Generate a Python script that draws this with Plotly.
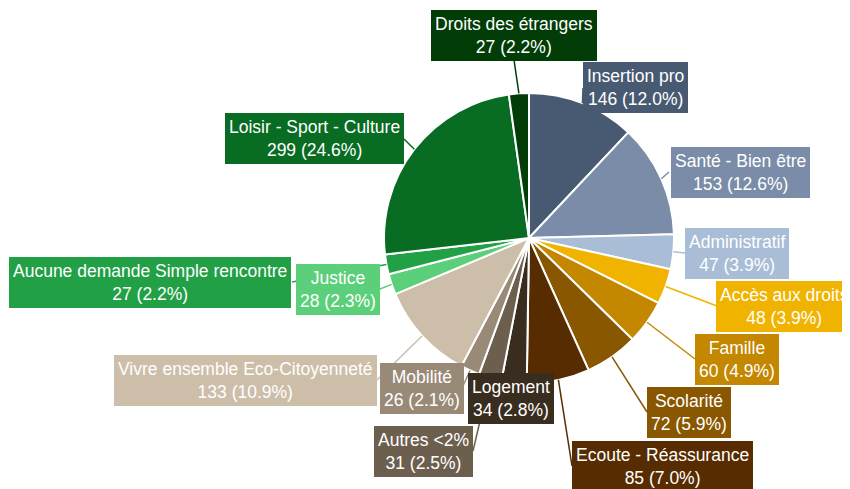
import math
import plotly.graph_objects as go

# ---- data ----
categories = [
    "Insertion pro", "Santé - Bien être", "Administratif", "Accès aux droits",
    "Famille", "Scolarité", "Ecoute - Réassurance", "Logement", "Autres <2%",
    "Mobilité", "Vivre ensemble Eco-Citoyenneté", "Justice",
    "Aucune demande Simple rencontre", "Loisir - Sport - Culture",
    "Droits des étrangers",
]
values = [146, 153, 47, 48, 60, 72, 85, 34, 31, 26, 133, 28, 27, 299, 27]
colors = [
    "#475a72", "#7a8ca7", "#a9bdd6", "#f0b400", "#c38700", "#895700",
    "#572c00", "#392d1f", "#6d5f4e", "#998a77", "#cdbeaa", "#5ccf7b",
    "#22a046", "#086c22", "#023d07",
]

# ---- layout (screen pixels; page body has an 8px margin) ----
W, H = 850, 489
OFF = 8
CX, CY, R = 529, 238, 145
label_centers = [
    (635, 88), (740, 172), (737, 253), (784, 306), (737, 359), (689, 412),
    (662, 466), (511, 398), (423, 451), (422, 388), (245, 380), (338, 289),
    (150, 282), (314, 139), (514, 35),
]
label_halfw = [52, 71, 52, 67, 42, 42, 90, 43, 50, 40, 132, 42, 142, 90, 83]
label_halfh = 25
FONT = "Liberation Sans, Arial, Helvetica, sans-serif"


def px(x, y):
    return (x - OFF) / W, 1 - (y - OFF) / H


total = sum(values)
dx0, dy1 = px(CX - R, CY - R)
dx1, dy0 = px(CX + R, CY + R)
fig = go.Figure(go.Pie(
    labels=categories, values=values, sort=False, direction="clockwise",
    rotation=0, textinfo="none", showlegend=False,
    marker=dict(colors=colors, line=dict(color="white", width=2)),
    domain=dict(x=[dx0, dx1], y=[dy0, dy1]),
))

shapes, annotations = [], []
cum = 0
for i, (lab, v, c) in enumerate(zip(categories, values, colors)):
    mid = (cum + v / 2) / total * 2 * math.pi
    cum += v
    ex = CX + R * math.sin(mid)
    ey = CY - R * math.cos(mid)
    bx, by = label_centers[i]
    hw = label_halfw[i]
    inside = (bx - hw <= ex <= bx + hw) and (by - label_halfh <= ey <= by + label_halfh)
    if not inside:
        if bx - hw <= ex <= bx + hw:
            tx, ty = bx, (by + label_halfh if ey > by else by - label_halfh)
        elif ex > bx:
            tx, ty = bx + hw, by
        else:
            tx, ty = bx - hw, by
        x0, y0 = px(ex, ey)
        x1, y1 = px(tx, ty)
        shapes.append(dict(type="line", xref="paper", yref="paper",
                           x0=x0, y0=y0, x1=x1, y1=y1, layer="above",
                           line=dict(color=c, width=1.5)))
    ax, ay = px(bx, by)
    annotations.append(dict(
        x=ax, y=ay, xref="paper", yref="paper", xanchor="center",
        yanchor="middle", showarrow=False, align="center",
        text=f"{lab}<br>{v} ({v / total * 100:.1f}%)",
        font=dict(family=FONT, size=17.5, color="white"),
        bgcolor=c, bordercolor=c, borderwidth=1, borderpad=3,
    ))

fig.update_layout(
    width=W, height=H, margin=dict(l=0, r=0, t=0, b=0),
    paper_bgcolor="white", plot_bgcolor="white",
    shapes=shapes, annotations=annotations,
)
fig.write_html("out.html")
